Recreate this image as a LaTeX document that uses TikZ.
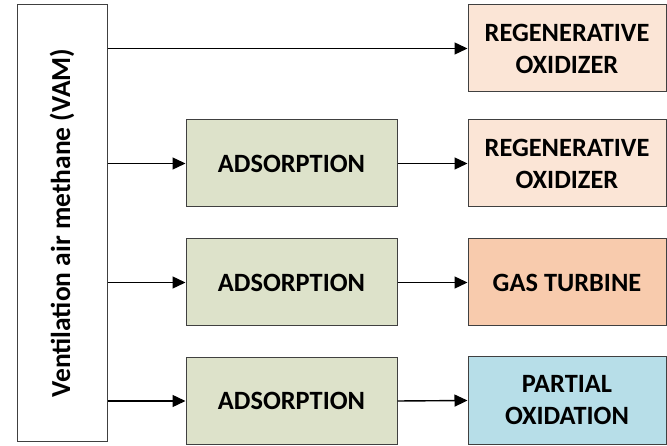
\documentclass[tikz,border=0pt]{standalone}
\usepackage{fontspec}
\setmainfont{Carlito}
\usetikzlibrary{arrows.meta}
\definecolor{peach}{HTML}{FBE5D6}
\definecolor{orangebox}{HTML}{F8CBAD}
\definecolor{bluebox}{HTML}{B7DEE8}
\definecolor{greenbox}{HTML}{DDE2CA}
\definecolor{edge}{HTML}{404040}
\begin{document}
\begin{tikzpicture}[x=1pt,y=-1pt,
  box/.style={draw=edge,line width=1pt,inner sep=0pt,align=center,
    font=\bfseries\fontsize{26.4}{32}\selectfont},
  adsbox/.style={box,fill=greenbox,minimum width=211pt,minimum height=87pt},
  outbox/.style={box,minimum width=198pt,minimum height=87pt},
  arr/.style={line width=1.4pt,-{Triangle[length=13pt,width=12pt]}}]
\useasboundingbox (0,0) rectangle (667,446);
\node[box,fill=white,rotate=90,minimum width=436pt,minimum height=90pt,
  font=\bfseries\fontsize{27.5}{32}\selectfont] (vam) at (62,223) {Ventilation air methane (VAM)};
\node[adsbox] (a1) at (291.5,163.5) {ADSORPTION};
\node[adsbox] (a2) at (291.5,282.5) {ADSORPTION};
\node[adsbox] (a3) at (291.5,401) {ADSORPTION};
\node[outbox,fill=peach] (r1) at (567,48.5) {REGENERATIVE\\OXIDIZER};
\node[outbox,fill=peach] (r2) at (567,163.5) {REGENERATIVE\\OXIDIZER};
\node[outbox,fill=orangebox] (r3) at (567,282.5) {GAS TURBINE};
\node[outbox,fill=bluebox] (r4) at (567,400.5) {PARTIAL\\OXIDATION};
\draw[arr] (vam.south |- r1.west) -- (r1.west);
\draw[arr] (vam.south |- a1.west) -- (a1.west);
\draw[arr] (vam.south |- a2.west) -- (a2.west);
\draw[arr] (vam.south |- a3.west) -- (a3.west);
\draw[arr] (a1.east) -- (r2.west);
\draw[arr] (a2.east) -- (r3.west);
\draw[arr] (a3.east) -- (r4.west);
\end{tikzpicture}
\end{document}
